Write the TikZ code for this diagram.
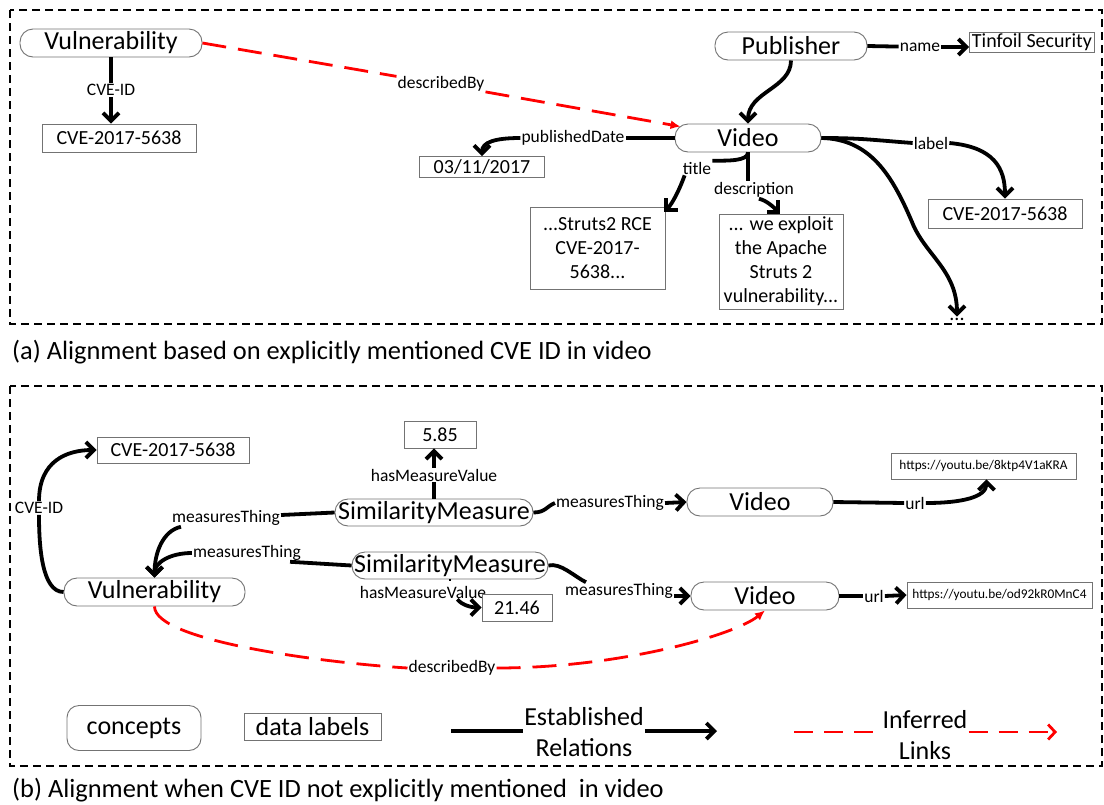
\documentclass[tikz,border=0pt]{standalone}
\usepackage{fontspec}
\setmainfont{Carlito}
\usetikzlibrary{arrows.meta,calc}
\newcommand\FCon{\fontsize{26}{31}\selectfont}
\newcommand\FDat{\fontsize{20}{24}\selectfont}
\newcommand\FEdg{\fontsize{17.5}{21}\selectfont}
\newcommand\FUrl{\fontsize{13.3}{16}\selectfont}
\newcommand\FCap{\fontsize{26.4}{31}\selectfont}
\newcommand\FLeg{\fontsize{26}{31}\selectfont}
\tikzset{
  concept/.style={draw=black!55, line width=0.9pt, rounded corners=13pt, fill=white, inner sep=0pt, font=\FCon},
  datal/.style={draw=black!55, line width=0.9pt, fill=white, inner sep=0pt, font=\FDat},
  elab/.style={inner sep=1pt, font=\FEdg},
  rel/.style={line width=3.8pt, black},
  relarr/.style={rel, -{Straight Barb[length=8pt,width=16pt]}},
  inf/.style={red, line width=2.8pt, dash pattern=on 24pt off 12pt},
  infarr/.style={inf, -{Latex[length=10pt,width=9pt]}},
  leginf/.style={red, line width=2.8pt, dash pattern=on 19pt off 11pt},
  frame/.style={line width=1.2pt, dash pattern=on 8pt off 5pt},
}
\begin{document}
\begin{tikzpicture}[x=1pt,y=-1pt]
\useasboundingbox (0,0) rectangle (1104,804);
% frames
\draw[frame] (10,10) rectangle (1102,324);
\draw[frame] (10,386) rectangle (1102,766);
\node[anchor=west, font=\FCap, inner sep=0pt] (capa) at (12,352) {(a) Alignment based on explicitly mentioned CVE ID in video};
\node[anchor=west, font=\FCap, inner sep=0pt] (capb) at (12,790) {(b) Alignment when CVE ID not explicitly mentioned\ \ in video};

% ===== top section =====
\node[concept, minimum width=182, minimum height=28] (vulA) at (111,43) {Vulnerability};
\node[elab] (lcveA) at (111,90) {CVE-ID};
\node[datal, minimum width=154, minimum height=28] (cveA) at (119,138) {CVE-2017-5638};
\draw[rel] (vulA) -- (lcveA);
\draw[relarr] (lcveA) -- (lcveA |- cveA.north);

\node[concept, minimum width=146, minimum height=28] (vidA) at (748,138) {Video};
\node[elab] (ldbA) at (441,84) {describedBy};
\draw[inf] (vulA.east) -- (ldbA);
\draw[infarr] (ldbA) -- ([xshift=6pt,yshift=-3pt]vidA.north west);

\node[concept, minimum width=152, minimum height=28] (pub) at (791,46) {Publisher};
\node[elab] (lname) at (920,47) {name};
\node[datal, minimum width=125, minimum height=20] (tin) at (1032,42) {Tinfoil Security};
\draw[rel] (pub.east) -- (lname);
\draw[relarr] (lname) -- (lname -| tin.west);
\draw[relarr] (pub.south) .. controls +(0,28) and +(0,-32) .. (vidA.north);

\node[elab] (lpd) at (573,138) {publishedDate};
\node[datal, minimum width=125, minimum height=21] (date) at (482,167) {03/11/2017};
\draw[rel] (vidA.west) -- (lpd);
\draw[relarr] (lpd.west) .. controls +(-25,0) and +(0,-14) .. (date.north);

\node[elab] (ltitle) at (697,168) {title};
\node[datal, minimum width=135, minimum height=82, align=center] (strut) at (597.5,248) {...Struts2 RCE\\CVE-2017-\\5638...};
\draw[rel] (vidA.south) .. controls +(0,9) and +(14,0) .. (ltitle.north east);
\draw[relarr] ([xshift=3pt]ltitle.south west) .. controls +(-5,14) and +(8,-8) .. ([xshift=-1pt,yshift=-5pt]strut.north east);

\node[elab] (ldesc) at (754,190) {description};
\node[datal, minimum width=124, minimum height=95, align=center] (desc) at (781,261.5) {... we exploit\\the Apache\\Struts 2\\vulnerability...};
\draw[rel] (vidA.south) -- (vidA.south |- ldesc.north);
\draw[relarr] ([xshift=5pt]ldesc.south) .. controls +(8,2) and +(-6,-6) .. ([xshift=-1pt]desc.north);

\node[elab] (llabel) at (931,143) {label};
\node[datal, minimum width=154, minimum height=29] (cveB) at (1005,213.5) {CVE-2017-5638};
\draw[rel] (vidA.east) .. controls +(40,0) and +(-40,-3) .. (llabel.west);
\draw[relarr] (llabel.east) .. controls +(45,4) and +(0,-30) .. (cveB.north);

\node[font=\FDat, inner sep=1pt, anchor=base, fill=white] (dots) at (957,320) {...};
\draw[relarr] (vidA.east) .. controls (870,139) and (892,175) .. (912,222) .. controls (925,255) and (957,270) .. (dots.north);

% ===== bottom section =====
\node[datal, minimum width=152, minimum height=26] (cveC) at (173,450) {CVE-2017-5638};
\node[concept, minimum width=181, minimum height=28] (vulB) at (154.5,592) {Vulnerability};
\node[elab] (lcveB) at (39,508) {CVE-ID};
\draw[rel] (vulB.west) .. controls +(-22,0) and +(0,30) .. (lcveB.south);
\draw[relarr] (lcveB.north) .. controls +(0,-40) and +(-30,0) .. (cveC.west);

\node[datal, minimum width=72, minimum height=27] (v585) at (440,434.5) {5.85};
\node[concept, minimum width=198, minimum height=27] (sm1) at (434,512.5) {SimilarityMeasure};
\node[elab] (lhmv1) at (434,475) {hasMeasureValue};
\draw[rel] (sm1) -- (lhmv1);
\draw[relarr] (lhmv1) -- (lhmv1 |- v585.south);

\node[elab] (lmt1) at (226,518) {measuresThing};
\draw[rel] (sm1.west) -- ([yshift=3pt]lmt1.east);
\draw[relarr] ([xshift=10pt]lmt1.south west) .. controls +(-18,4) and +(0,-25) .. (vulB.north);

\node[concept, minimum width=196, minimum height=27] (sm2) at (450,565.5) {SimilarityMeasure};
\node[elab] (lmt2) at (247,553) {measuresThing};
\draw[rel] (sm2.west) -- ([xshift=-12pt]lmt2.south east);
\draw[relarr] (lmt2.west) .. controls +(-22,0) and +(0,-15) .. (vulB.north);

\node[elab] (lhmv2) at (423,592) {hasMeasureValue};
\node[datal, minimum width=70, minimum height=27] (v2146) at (517,607.5) {21.46};
\draw[line width=2.5pt] (sm2.south) -- ([yshift=-2pt]sm2.south);
\draw[relarr] ([xshift=-30pt]lhmv2.south east) .. controls +(5,6) and +(-10,0) .. (v2146.west);

\node[concept, minimum width=146, minimum height=28] (vid1) at (760,502) {Video};
\node[elab] (lmt3) at (610,503) {measuresThing};
\draw[rel] (sm1.east) .. controls +(12,0) and +(-8,3) .. (lmt3.west);
\draw[relarr] (lmt3.east) -- (vid1.west);

\node[elab] (lurl1) at (915,503) {url};
\node[datal, font=\FUrl, minimum width=185, minimum height=26] (urlA) at (983.5,466) {https://youtu.be/8ktp4V1aKRA};
\draw[rel] (vid1.east) -- (lurl1.west);
\draw[relarr] (lurl1.east) .. controls +(35,0) and +(0,18) .. ([xshift=3pt]urlA.south);

\node[concept, minimum width=148, minimum height=28] (vid2) at (765,596) {Video};
\node[elab] (lmt4) at (619,591) {measuresThing};
\draw[rel] (sm2.east) .. controls +(12,-3) and +(-12,-6) .. ([xshift=22pt]lmt4.north west);
\draw[relarr] (lmt4.east |- vid2.west) -- (vid2.west);

\node[elab] (lurl2) at (874,596) {url};
\node[datal, font=\FUrl, minimum width=185, minimum height=26] (urlB) at (999.5,595) {https://youtu.be/od92kR0MnC4};
\draw[rel] (vid2.east) -- (lurl2.west);
\draw[relarr] (lurl2.east) -- (urlB.west);

\node[elab] (ldbB) at (452,668) {describedBy};
\draw[inf] (vulB.south) .. controls +(0,35) and +(-80,-5) .. (ldbB.west);
\draw[infarr] (ldbB.east) .. controls (620,668) and (735,635) .. (vid2.south);

% ===== legend =====
\node[concept, minimum width=134, minimum height=45, rounded corners=12pt, font=\FLeg] (legc) at (134,728) {concepts};
\node[datal, minimum width=137, minimum height=27, font=\FLeg] (legd) at (312.5,727) {data labels};
\node[font=\FLeg, align=center, inner sep=1pt] (legr) at (584,732) {Established\\Relations};
\coordinate (legr0) at (451,731);
\coordinate (legr1) at (717,731);
\draw[rel] (legr0) -- (legr.west |- legr0);
\draw[relarr] (legr.east |- legr0) -- (legr1);
\node[font=\FLeg, align=center, inner sep=1pt, fill=white] (legi) at (925,735) {Inferred\\Links};
\coordinate (legi0) at (794,732);
\coordinate (legi1) at (1057,732);
\draw[leginf] (legi0) -- (legi.west |- legi0);
\draw[leginf, -{Straight Barb[length=7pt,width=15pt]}] (legi.east |- legi0) -- (legi1);
\end{tikzpicture}
\end{document}
